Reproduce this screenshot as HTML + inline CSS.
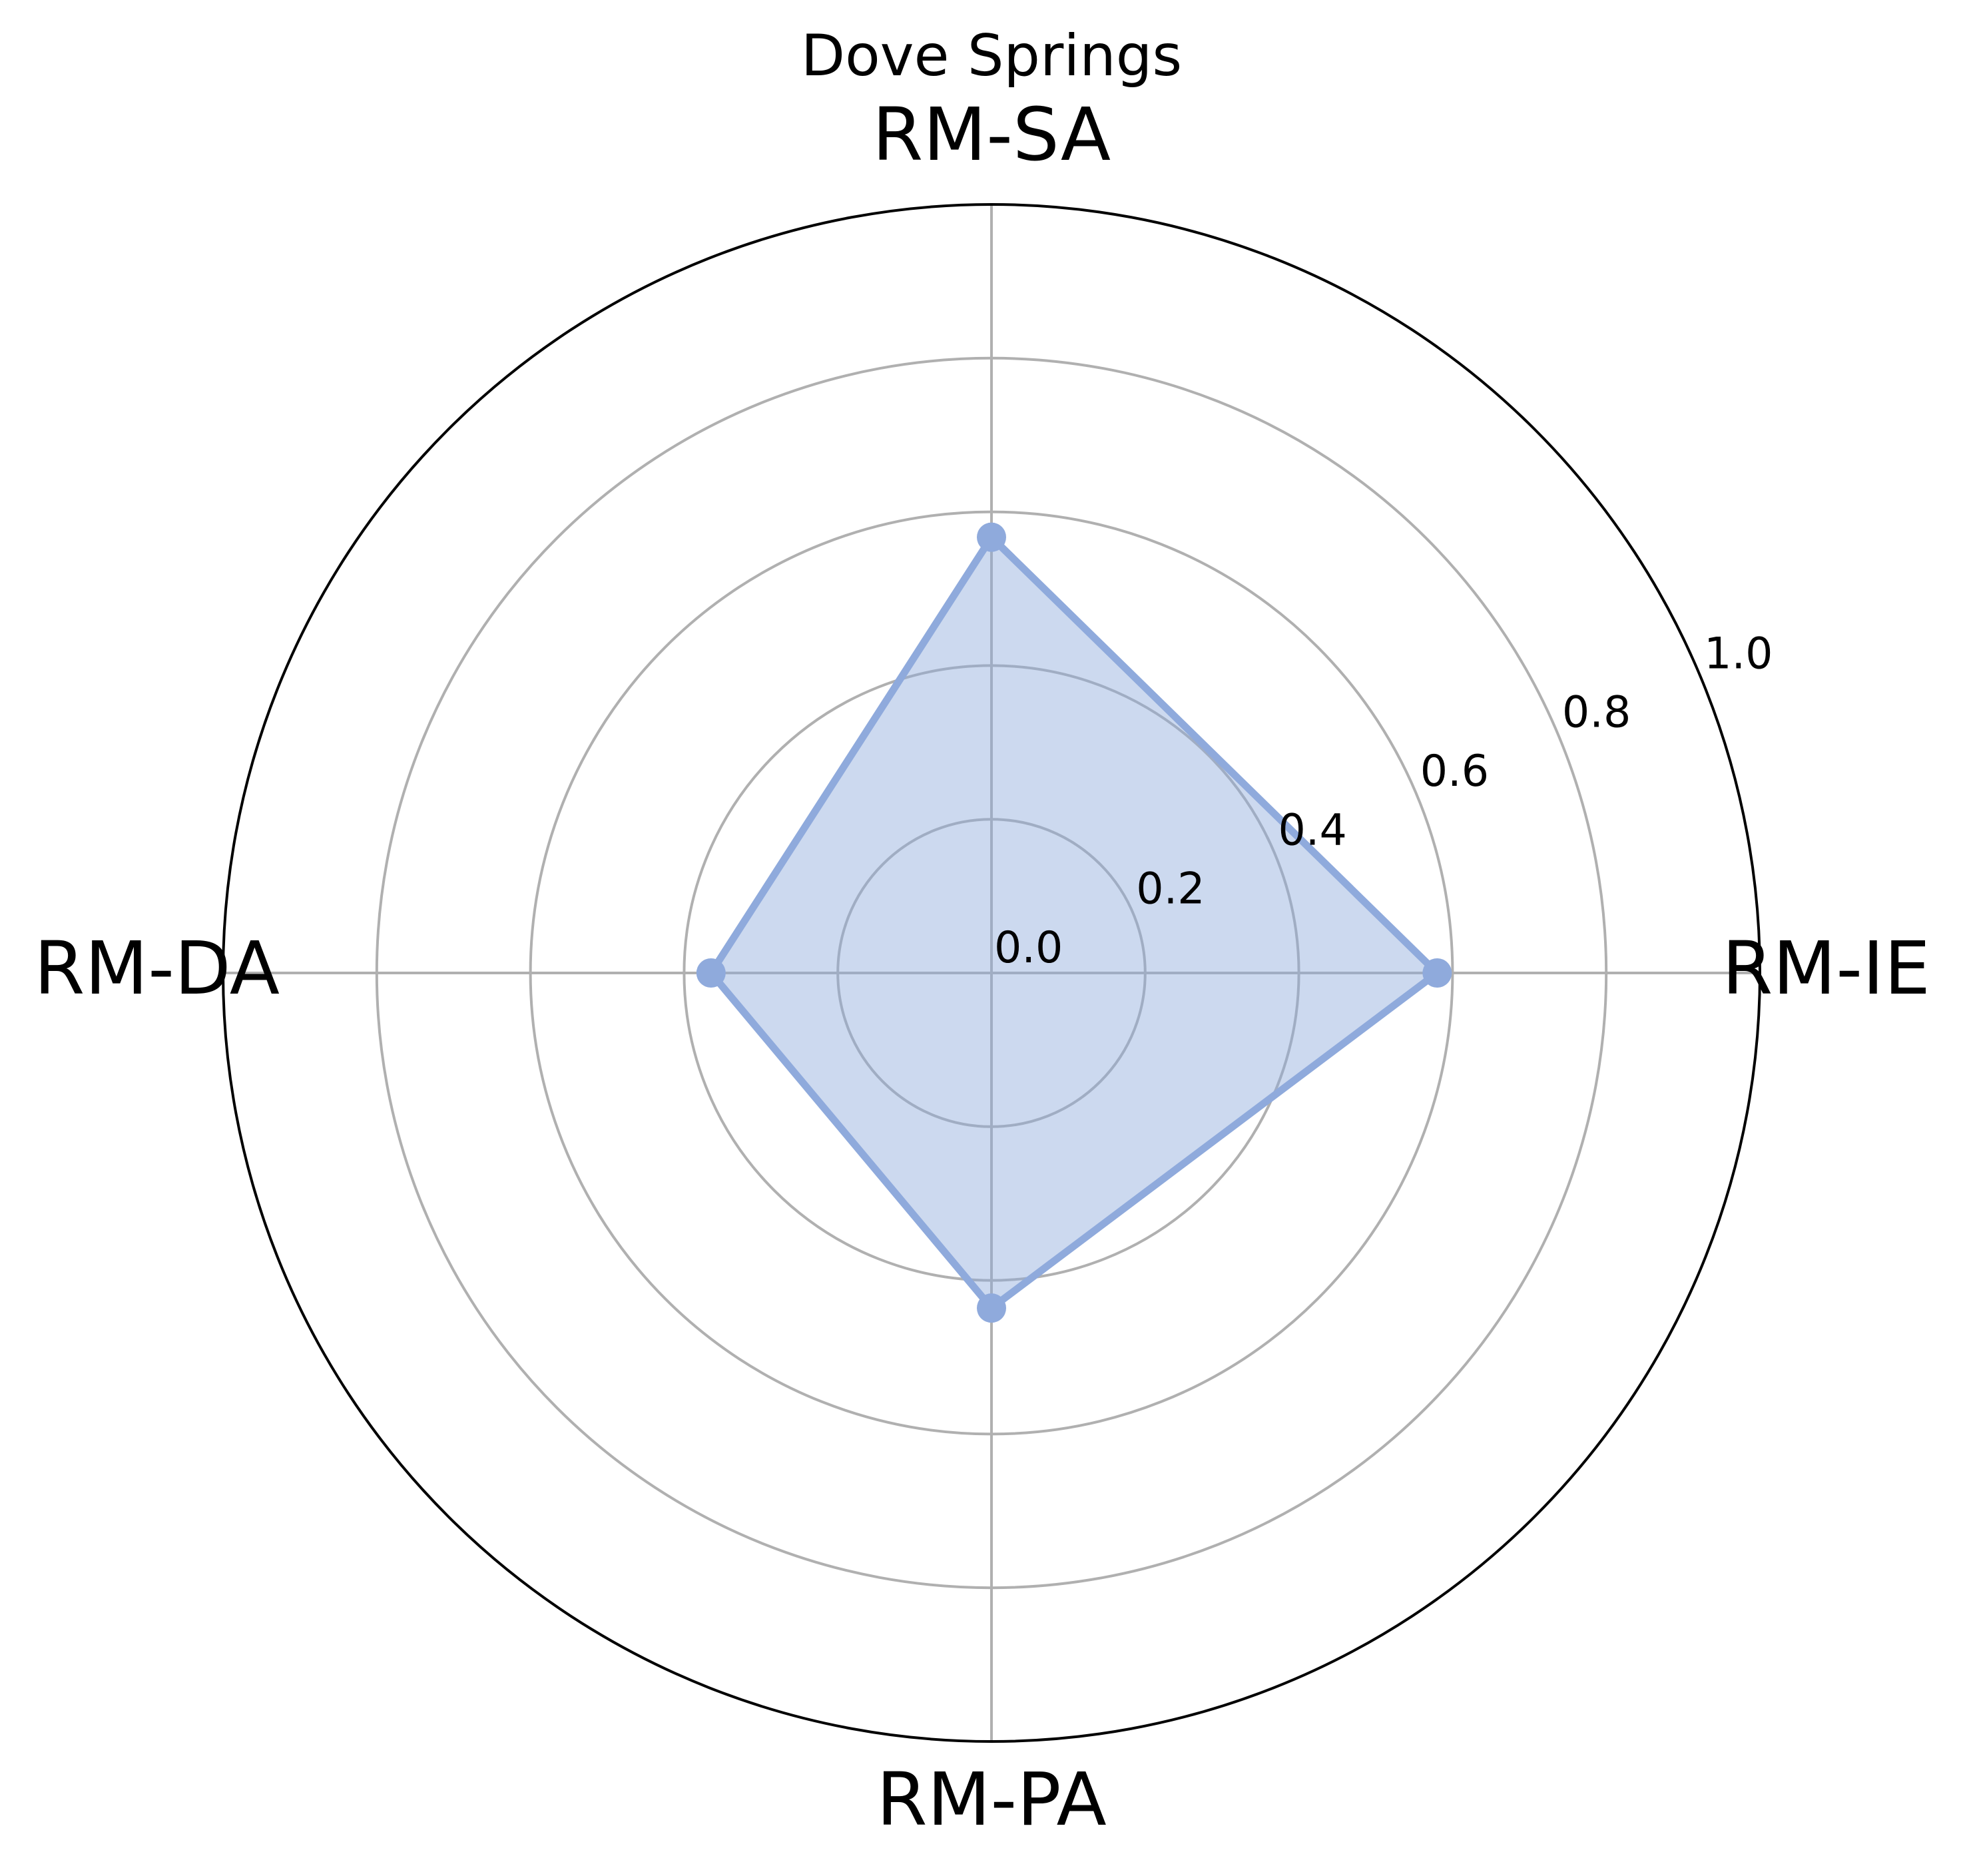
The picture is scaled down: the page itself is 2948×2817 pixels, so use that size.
<!DOCTYPE html>
<html><head><meta charset="utf-8"><style>
html,body{margin:0;padding:0;background:#fff;}
svg{display:block;font-family:"DejaVu Sans","Liberation Sans",sans-serif;}
</style></head><body>
<svg id="chart" width="2948" height="2817" viewBox="0 0 2948 2817" xmlns="http://www.w3.org/2000/svg">
<rect width="2948" height="2817" fill="#fff"/>
<text x="1489" y="113" font-size="86" text-anchor="middle" fill="#000">Dove Springs</text>
<g id="grid"></g>
<g id="series"></g>
<g id="labels"></g>
</svg>
<script>
const categories = ["RM-IE", "RM-SA", "RM-DA", "RM-PA"];
const values = [0.58, 0.567, 0.365, 0.436];
const rTicks = [0.0, 0.2, 0.4, 0.6, 0.8, 1.0];
const rTickLabels = ["0.0", "0.2", "0.4", "0.6", "0.8", "1.0"];

const NS = "http://www.w3.org/2000/svg";
const cx = 1489, cy = 1461, R = 1154;
function rScale(v){ return v * R; }
function angle(i){ return i * 2 * Math.PI / categories.length; }
function pt(i, v){ const a = angle(i), r = rScale(v); return [cx + r*Math.cos(a), cy - r*Math.sin(a)]; }
function mk(tag, attrs){ const e = document.createElementNS(NS, tag); for (const k in attrs) e.setAttribute(k, attrs[k]); return e; }

const grid = document.getElementById('grid');
rTicks.forEach((t, i) => {
  if (t === 0 || t === 1) return;
  const c = mk('circle', {cx: cx, cy: cy, r: rScale(t), fill: 'none', stroke: '#b0b0b0', 'stroke-width': 4});
  
  
  grid.appendChild(c);
});
categories.forEach((c, i) => {
  const [x, y] = pt(i, 1);
  const l = mk('line', {x1: cx, y1: cy, x2: x, y2: y, stroke: '#b0b0b0', 'stroke-width': 4});
  
  
  grid.appendChild(l);
});

const series = document.getElementById('series');
const pts = values.map((v, i) => pt(i, v));
const d = pts.map((p, i) => (i ? 'L' : 'M') + p[0] + ' ' + p[1]).join(' ') + ' Z';
const fill = mk('path', {d: d, fill: '#8faadc', 'fill-opacity': 0.45, stroke: 'none'});


series.appendChild(fill);
const line = mk('path', {d: d, fill: 'none', stroke: '#8faadc', 'stroke-width': 11, 'stroke-linejoin': 'round'});


series.appendChild(line);
pts.forEach((p, i) => {
  const m = mk('circle', {cx: p[0], cy: p[1], r: 22, fill: '#8faadc'});
  
  
  series.appendChild(m);
});

const outer = mk('circle', {cx: cx, cy: cy, r: R, fill: 'none', stroke: '#000', 'stroke-width': 4});


series.appendChild(outer);

const labels = document.getElementById('labels');
const ra = 22.5 * Math.PI / 180;
rTicks.forEach((t, i) => {
  const r = rScale(t);
  const tx = mk('text', {x: cx + r*Math.cos(ra) + 4, y: cy - r*Math.sin(ra) - 16, 'font-size': 65, fill: '#000'});
  tx.textContent = rTickLabels[i];
  
  
  labels.appendChild(tx);
});
const catPos = [
  {x: 2586, y: 1492, a: 'start'},
  {x: 1489, y: 240, a: 'middle'},
  {x: 420, y: 1492, a: 'end'},
  {x: 1489, y: 2740, a: 'middle'}
];
categories.forEach((c, i) => {
  const tx = mk('text', {x: catPos[i].x, y: catPos[i].y, 'font-size': 110, 'text-anchor': catPos[i].a, fill: '#000'});
  tx.textContent = c;
  
  
  labels.appendChild(tx);
});
</script>
</body></html>
